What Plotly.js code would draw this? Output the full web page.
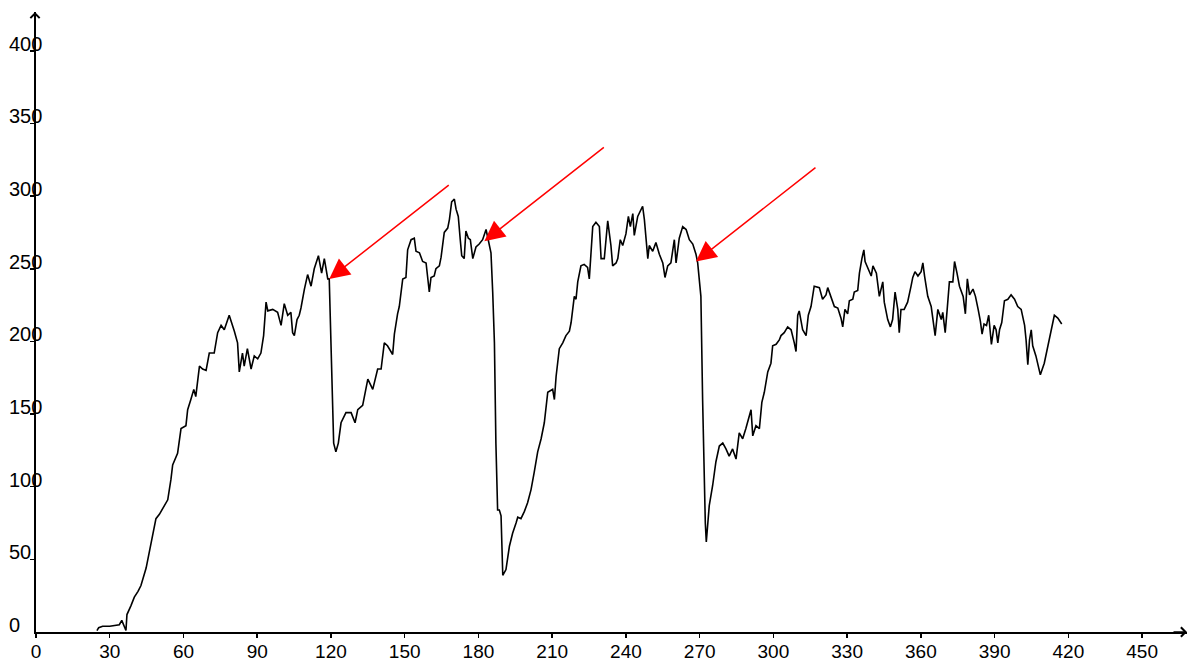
<!DOCTYPE html>
<html>
<head>
<meta charset="utf-8">
<script src="https://cdn.plot.ly/plotly-3.0.1.min.js"></script>
<style>
  html, body { margin: 0; padding: 0; background: #fff; }
  #chart { width: 1198px; height: 664px; }
</style>
</head>
<body>
<div id="chart"></div>
<script>
// time axis values
const t = [
  24.8, 25.5, 27.1, 30.0, 33.9, 34.9, 36.6, 37.0, 38.6, 40.0, 41.5, 42.7, 44.8, 46.1, 47.5, 48.8, 50.2, 52.2, 53.6,
  54.9, 55.6, 57.6, 59.0, 61.0, 61.7, 63.0, 64.2, 65.0, 66.5, 67.8, 69.2, 70.5, 72.5, 73.9, 75.3, 76.6, 78.6,
  80.7, 82.0, 82.7, 84.0, 84.7, 86.0, 87.5, 88.8, 90.2, 91.5, 92.6, 93.6, 94.3, 96.3, 98.3, 99.7, 101.0, 102.4,
  103.7, 104.4, 105.1, 106.2, 107.1, 107.8, 109.2, 110.5, 111.9, 113.2, 114.9, 116.2, 117.3, 118.7, 119.3,
  119.7, 120.3, 121.1, 122.0, 123.0, 124.1, 126.1, 128.2, 129.8, 130.9, 132.9, 135.0, 137.0, 139.0, 140.4,
  141.7, 143.0, 145.1, 145.8, 147.1, 147.8, 149.2, 150.5, 151.2, 152.6, 153.9, 154.6, 156.0, 157.3, 158.7,
  160.0, 160.7, 162.0, 162.7, 164.1, 164.8, 165.4, 166.1, 167.5, 168.2, 169.1, 170.2, 170.9, 171.8, 172.6,
  173.2, 174.2, 174.9, 175.9, 176.7, 177.7, 179.0, 180.3, 181.7, 183.1, 184.0, 185.1, 185.8, 186.5, 187.1,
  187.8, 188.5, 189.2, 189.9, 191.2, 192.6, 193.9, 195.3, 196.0, 197.3, 198.7, 200.0, 201.4, 202.7, 204.1,
  205.5, 206.8, 208.2, 210.2, 210.9, 211.6, 212.9, 214.3, 215.6, 217.0, 217.7, 218.4, 219.0, 219.7, 220.4,
  221.7, 223.0, 224.4, 225.1, 225.8, 226.5, 227.8, 229.2, 229.9, 231.2, 232.6, 233.9, 234.6, 236.0, 236.7,
  237.7, 238.7, 240.0, 241.0, 241.8, 242.8, 243.4, 244.8, 246.1, 246.8, 247.5, 248.2, 248.9, 249.5, 250.9,
  252.2, 253.6, 255.0, 255.9, 257.0, 258.3, 259.7, 260.4, 261.7, 263.1, 264.5, 265.8, 267.2, 268.5, 269.2,
  270.5, 271.2, 271.9, 272.3, 272.7, 273.9, 275.3, 276.6, 278.0, 279.4, 280.7, 282.0, 283.4, 284.8, 286.1,
  287.5, 288.8, 290.9, 291.6, 292.9, 294.3, 295.3, 296.3, 297.7, 299.0, 299.7, 301.1, 302.4, 303.1, 304.4,
  305.8, 307.2, 308.5, 309.2, 309.9, 310.5, 311.9, 313.3, 314.2, 315.3, 316.6, 318.7, 320.0, 321.4, 322.1,
  323.4, 324.8, 326.2, 327.5, 328.2, 329.1, 330.2, 330.9, 332.3, 332.9, 334.3, 335.0, 336.0, 336.8, 337.3,
  338.4, 339.8, 340.5, 341.9, 343.1, 344.5, 345.1, 346.5, 347.6, 348.5, 349.5, 350.6, 351.2, 351.9, 353.2,
  354.6, 356.0, 356.7, 357.6, 358.8, 360.1, 360.8, 361.5, 362.8, 364.2, 364.8, 365.8, 366.9, 368.3, 368.9,
  369.9, 370.7, 371.6, 373.0, 373.7, 374.7, 375.7, 377.2, 378.1, 378.9, 379.8, 381.2, 382.2, 383.3, 384.2,
  384.9, 385.7, 386.7, 387.6, 388.7, 389.8, 390.6, 391.3, 392.0, 392.9, 394.0, 395.4, 396.7, 398.1, 399.4,
  400.8, 402.2, 402.8, 403.5, 404.2, 404.9, 405.5, 406.8, 408.6, 410.2, 411.6, 413.0, 414.3, 415.7, 417.3
];
// measured values
const values = [
  1, 3, 4, 4, 5, 8, 1, 12, 18, 24, 28, 32, 44, 55, 66, 78, 81, 87, 91,
  105, 115, 123, 140, 142, 153, 160, 167, 162, 183, 181, 180, 192, 192, 206, 211, 208, 218,
  207, 199, 179, 192, 183, 195, 181, 190, 188, 192, 204, 227, 221, 222, 220, 211, 226, 218,
  220, 206, 204, 215, 218, 223, 236, 246, 238, 250, 259, 247, 257, 243, 243,
  213, 169, 130, 124, 130, 144, 151, 151, 144, 153, 156, 174, 167, 181, 181,
  199, 197, 191, 205, 219, 224, 243, 244, 263, 270, 271, 262, 261, 255, 254,
  234, 244, 245, 250, 252, 258, 266, 275, 278, 284, 296, 298, 291, 286, 270,
  259, 257, 276, 271, 270, 257, 265, 267, 270, 277, 269, 261, 234, 199, 130,
  84, 84, 80, 39, 43, 59, 68, 75, 79, 78, 83, 89, 98, 110, 124,
  133, 144, 165, 167, 160, 176, 195, 199, 204, 207, 213, 222, 231, 229, 241,
  252, 253, 251, 243, 261, 279, 282, 279, 257, 257, 283, 266, 252, 254, 257,
  270, 266, 274, 286, 279, 288, 273, 286, 290, 293, 284, 270, 257, 266, 262,
  268, 260, 254, 244, 252, 254, 270, 254, 271, 279, 277, 270, 267, 260, 254,
  231, 160, 96, 75, 62, 87, 101, 117, 128, 130, 126, 121, 126, 119, 137,
  133, 140, 153, 135, 142, 140, 158, 165, 179, 185, 197, 198, 201, 204, 206,
  210, 208, 199, 193, 218, 221, 208, 204, 218, 224, 238, 237, 229, 232, 237,
  231, 224, 223, 216, 210, 222, 219, 228, 229, 234, 235, 247, 257, 263, 255,
  250, 245, 252, 247, 231, 241, 227, 215, 210, 215, 234, 222, 206, 222, 222,
  227, 238, 244, 248, 245, 248, 254, 245, 231, 224, 215, 204, 222, 215, 220,
  206, 222, 241, 241, 255, 247, 238, 231, 219, 243, 232, 236, 231, 222, 214,
  205, 212, 211, 218, 198, 211, 208, 199, 208, 213, 228, 229, 232, 229, 224,
  222, 211, 201, 184, 201, 208, 197, 190, 177, 185, 197, 208, 218, 216, 212
];
const xTicks = [0, 30, 60, 90, 120, 150, 180, 210, 240, 270, 300, 330, 360, 390, 420, 450];
const yTicks = [0, 50, 100, 150, 200, 250, 300, 350, 400];
// arrow targets (the three sudden drops)
const dropX = [119.3, 182.4, 268.5];
const dropY = [243, 269, 255];

const W = 1198, H = 664;
const m = {l: 36, r: 11, t: 12, b: 32};
const plotW = W - m.l - m.r, plotH = H - m.t - m.b;
const xMax = plotW / 2.458;
const yMax = plotH / 1.453;
const FONT = 'Liberation Sans, Arial, sans-serif';

const annotations = [];
// y tick labels, left aligned as in the original
yTicks.forEach(v => {
  annotations.push({
    xref: 'paper', yref: 'y', x: (7 - m.l) / plotW, y: v,
    xanchor: 'left', yanchor: 'middle', yshift: 7,
    text: String(v), showarrow: false,
    font: {family: FONT, size: 20, color: '#000'}
  });
});
// red arrows
dropX.forEach((x, i) => {
  annotations.push({
    xref: 'x', yref: 'y', x: x, y: dropY[i], text: '',
    showarrow: true, arrowhead: 2, arrowsize: 2.7, arrowwidth: 1.5,
    arrowcolor: '#ff0000', ax: 121, ay: -95, standoff: 0
  });
});
// axis end arrows
annotations.push({xref: 'paper', yref: 'paper', x: 1, y: 0, text: '', showarrow: true,
  arrowhead: 4, arrowsize: 1.2, arrowwidth: 1.5, arrowcolor: '#000', ax: -15, ay: 0, standoff: 0});
annotations.push({xref: 'paper', yref: 'paper', x: 0, y: 1, xshift: -1, text: '', showarrow: true,
  arrowhead: 4, arrowsize: 1.2, arrowwidth: 1.5, arrowcolor: '#000', ax: 0, ay: 15, standoff: 0});

const data = [{
  x: t, y: values, type: 'scatter', mode: 'lines',
  line: {color: '#000', width: 1.6}, hoverinfo: 'skip'
}];

const layout = {
  width: W, height: H, margin: m,
  paper_bgcolor: '#fff', plot_bgcolor: '#fff', showlegend: false,
  font: {family: FONT, size: 20, color: '#000'},
  xaxis: {
    range: [0, xMax], tickvals: xTicks, ticktext: xTicks.map(String),
    ticks: 'outside', ticklen: 4, tickwidth: 1.5, tickcolor: '#000',
    ticklabelstandoff: -3,
    showline: true, linecolor: '#000', linewidth: 2, showgrid: false, zeroline: false,
    tickfont: {family: FONT, size: 19, color: '#000'}, fixedrange: true
  },
  yaxis: {
    range: [0, yMax], tickvals: yTicks.slice(1), showticklabels: false,
    ticks: 'outside', ticklen: 4, tickwidth: 1.5, tickcolor: '#000',
    showline: true, linecolor: '#000', linewidth: 2, showgrid: false, zeroline: false, fixedrange: true
  },
  xaxis2: {
    overlaying: 'x', anchor: 'y', side: 'bottom', range: [0, xMax], tickvals: xTicks,
    ticks: 'inside', ticklen: 3, tickwidth: 1.5, tickcolor: '#000', showticklabels: false,
    showline: false, showgrid: false, zeroline: false
  },
  yaxis2: {
    overlaying: 'y', anchor: 'x', side: 'left', range: [0, yMax], tickvals: yTicks.slice(1),
    ticks: 'inside', ticklen: 6, tickwidth: 1.5, tickcolor: '#000', showticklabels: false,
    showline: false, showgrid: false, zeroline: false
  },
  annotations: annotations
};

Plotly.newPlot('chart', data, layout, {staticPlot: true, displayModeBar: false});
</script>
</body>
</html>
